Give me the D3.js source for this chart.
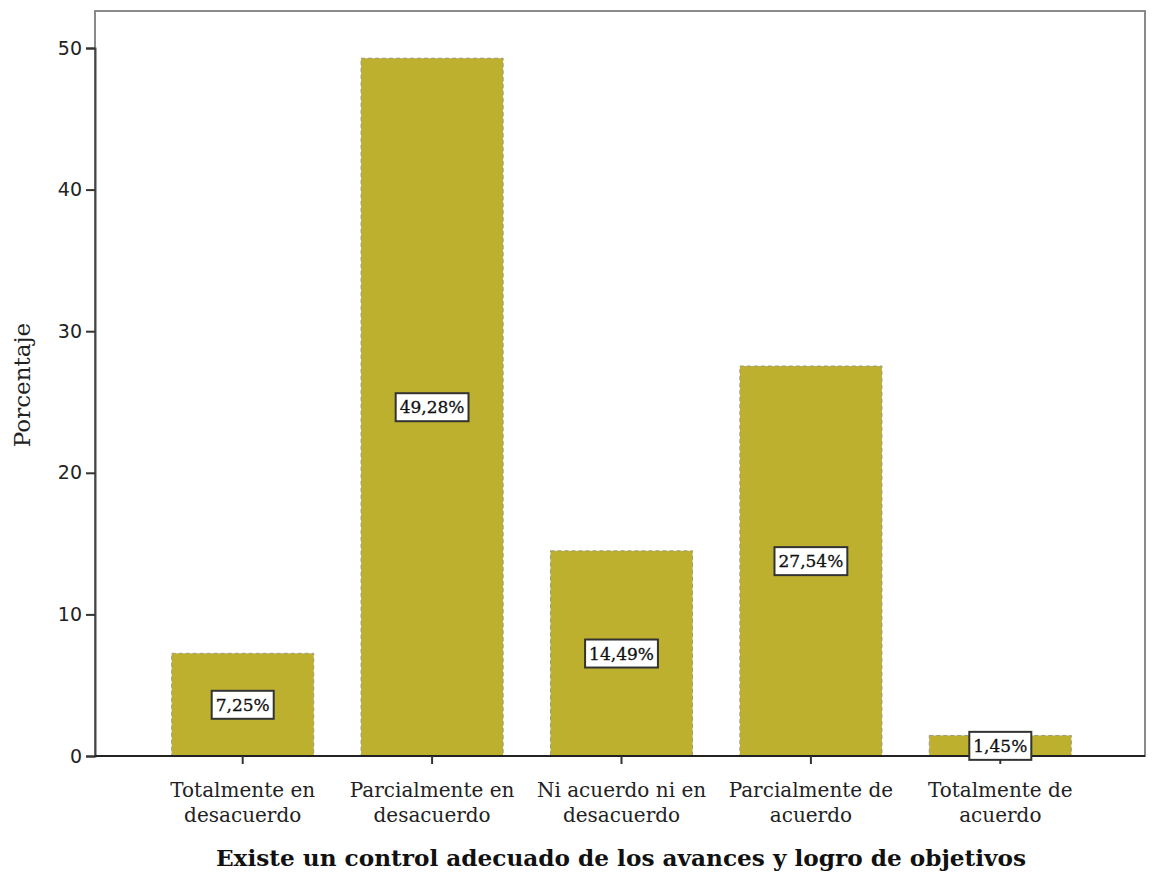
<!DOCTYPE html>
<html>
<head>
<meta charset="utf-8">
<script src="https://cdn.jsdelivr.net/npm/d3@7"></script>
<style>
  body { margin: 0; background: #fff; }
  svg { display: block; }
</style>
</head>
<body>
<script>
// Response categories (each split into two lines) and their percentages
const categories = [
  ["Totalmente en", "desacuerdo"],
  ["Parcialmente en", "desacuerdo"],
  ["Ni acuerdo ni en", "desacuerdo"],
  ["Parcialmente de", "acuerdo"],
  ["Totalmente de", "acuerdo"]
];
const percentages = [7.25, 49.28, 14.49, 27.54, 1.45];
const valueLabels = ["7,25%", "49,28%", "14,49%", "27,54%", "1,45%"];
const yTicks = [0, 10, 20, 30, 40, 50];
const xTitle = "Existe un control adecuado de los avances y logro de objetivos";
const yTitle = "Porcentaje";

const W = 1154, H = 872;
const frame = { left: 95, top: 11, right: 1145, bottom: 756 };

const svg = d3.select("body").append("svg").attr("width", W).attr("height", H);

const ids = categories.map((_, i) => i);
const x = d3.scaleBand().domain(ids).range([148, 1095]).paddingInner(0.25).paddingOuter(0.125);
const y = d3.scaleLinear().domain([0, 50]).range([756, 48]);

// plot frame
svg.append("rect")
  .attr("x", frame.left).attr("y", frame.top)
  .attr("width", frame.right - frame.left).attr("height", frame.bottom - frame.top)
  .attr("fill", "none").attr("stroke", "#8a8a8a").attr("stroke-width", 2);

// bars
svg.append("g").selectAll("rect").data(ids).join("rect")
  .attr("x", i => x(i))
  .attr("y", i => y(percentages[i]))
  .attr("width", x.bandwidth())
  .attr("height", i => y(0) - y(percentages[i]))
  .attr("fill", "#bdb02f")
  .attr("stroke", "#9a9a80")
  .attr("stroke-width", 1)
  .attr("stroke-dasharray", "4,3");

// y axis
const yAxis = svg.append("g")
  .attr("transform", `translate(${frame.left},0)`)
  .call(d3.axisLeft(y).tickValues(yTicks).tickSize(9).tickPadding(4));
yAxis.select(".domain").attr("stroke", "#444").attr("stroke-width", 2);
yAxis.selectAll(".tick line").attr("stroke", "#333").attr("stroke-width", 2);
yAxis.selectAll("text")
  .attr("font-family", "'DejaVu Sans', sans-serif")
  .attr("font-size", 19).attr("fill", "#222");

// x axis baseline and ticks
const xAxis = svg.append("g")
  .attr("transform", `translate(0,${frame.bottom})`)
  .call(d3.axisBottom(x).tickSize(8).tickFormat(""));
xAxis.select(".domain").attr("d", `M${frame.left},0H${frame.right}`).attr("stroke", "#222").attr("stroke-width", 2);
xAxis.selectAll(".tick line").attr("stroke", "#333").attr("stroke-width", 2);

// category labels
const catG = svg.append("g");
ids.forEach(i => {
  const cx = x(i) + x.bandwidth() / 2;
  const t = catG.append("text")
    .attr("x", cx)
    .attr("y", 797)
    .attr("text-anchor", "middle")
    .attr("font-family", "'DejaVu Serif', serif")
    .attr("font-size", 20)
    .attr("fill", "#222");
  categories[i].forEach((line, k) => {
    t.append("tspan").attr("x", cx).attr("dy", k === 0 ? 0 : 25).text(line);
  });
});

// value labels in boxes at mid-height of each bar
const lab = svg.append("g").selectAll("g").data(ids).join("g")
  .attr("transform", i => `translate(${x(i) + x.bandwidth() / 2},${y(percentages[i] / 2)})`);
lab.append("text")
  .attr("text-anchor", "middle")
  .attr("dy", "0.36em")
  .attr("font-family", "'DejaVu Serif', serif")
  .attr("font-size", 17)
  .attr("fill", "#111")
  .attr("stroke", "#111")
  .attr("stroke-width", 0.3)
  .text(i => valueLabels[i]);
lab.each(function () {
  const g = d3.select(this);
  const bb = g.select("text").node().getBBox();
  g.insert("rect", "text")
    .attr("x", bb.x - 4).attr("y", bb.y - 4)
    .attr("width", bb.width + 8).attr("height", bb.height + 8)
    .attr("fill", "#fff").attr("stroke", "#333").attr("stroke-width", 2);
});

// axis titles
svg.append("text")
  .attr("x", 621).attr("y", 866)
  .attr("text-anchor", "middle")
  .attr("font-family", "'DejaVu Serif', serif")
  .attr("font-weight", "bold")
  .attr("font-size", 23.2)
  .attr("fill", "#111")
  .text(xTitle);

svg.append("text")
  .attr("transform", "translate(30,385) rotate(-90)")
  .attr("text-anchor", "middle")
  .attr("font-family", "'DejaVu Serif', serif")
  .attr("font-size", 23)
  .attr("fill", "#222")
  .text(yTitle);
</script>
</body>
</html>
